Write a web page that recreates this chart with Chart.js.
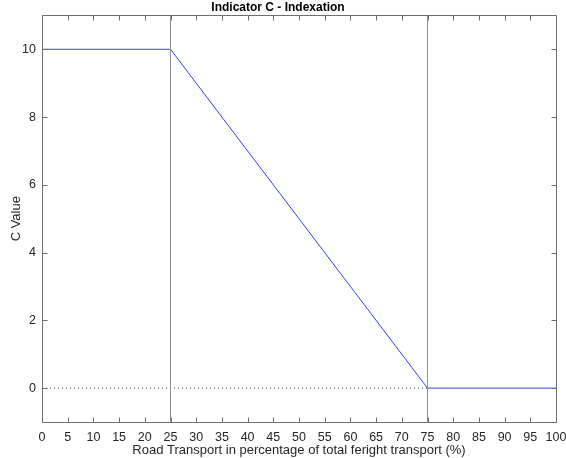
<!DOCTYPE html>
<html>
<head>
<meta charset="utf-8">
<script src="https://cdn.jsdelivr.net/npm/chart.js@4/dist/chart.umd.min.js"></script>
<style>
  body { margin: 0; background: #fff; }
  canvas { display: block; }
</style>
</head>
<body>
<canvas id="grafico" width="566" height="458"></canvas>
<script>
// Indicator C – piecewise line
const cX = [0, 25, 75, 100];
const cY = [10, 10, 0, 0];
// vertical reference lines
const refX = [25, 75];
const refY = [-1, 11];
// dotted zero line
const zeroX = [0, 75];
const zeroY = [0, 0];
const xTicks = [0, 5, 10, 15, 20, 25, 30, 35, 40, 45, 50, 55, 60, 65, 70, 75, 80, 85, 90, 95, 100];
const yTicks = [0, 2, 4, 6, 8, 10];

const font = 'Helvetica, Arial, "Liberation Sans", sans-serif';

// frame box and inward ticks like MATLAB
const frameBox = {
  id: 'frameBox',
  afterDraw(chart) {
    const { ctx, chartArea: a, scales: { x, y } } = chart;
    const l = Math.round(a.left) + 0.5, r = Math.round(a.right) + 0.5;
    const t = Math.round(a.top) + 0.5, b = Math.round(a.bottom) + 0.5;
    ctx.save();
    ctx.strokeStyle = '#6e6e6e';
    ctx.lineWidth = 1;
    ctx.beginPath();
    xTicks.forEach(v => {
      const px = Math.round(x.getPixelForValue(v)) + 0.5;
      ctx.moveTo(px, b); ctx.lineTo(px, b - 5);
      ctx.moveTo(px, t); ctx.lineTo(px, t + 5);
    });
    yTicks.forEach(v => {
      const py = Math.round(y.getPixelForValue(v)) + 0.5;
      ctx.moveTo(l, py); ctx.lineTo(l + 5, py);
      ctx.moveTo(r, py); ctx.lineTo(r - 5, py);
    });
    ctx.moveTo(l, t); ctx.lineTo(r, t); ctx.lineTo(r, b); ctx.lineTo(l, b); ctx.closePath();
    ctx.stroke();
    ctx.restore();
  }
};

new Chart(document.getElementById('grafico'), {
  type: 'line',
  data: {
    datasets: [
      {
        label: 'ref25',
        data: refY.map(v => ({ x: refX[0], y: v })),
        borderColor: '#8f8f8f', borderWidth: 1, pointRadius: 0
      },
      {
        label: 'ref75',
        data: refY.map(v => ({ x: refX[1], y: v })),
        borderColor: '#8f8f8f', borderWidth: 1, pointRadius: 0
      },
      {
        label: 'zero',
        data: zeroX.map((v, i) => ({ x: v, y: zeroY[i] })),
        borderColor: '#333333', borderWidth: 1, borderDash: [1, 3], pointRadius: 0
      },
      {
        label: 'C',
        data: cX.map((v, i) => ({ x: v, y: cY[i] })),
        borderColor: '#3c3cf0', borderWidth: 1, pointRadius: 0
      }
    ]
  },
  options: {
    responsive: false,
    animation: false,
    layout: { padding: { top: 0, right: 10, left: 0, bottom: 0 } },
    plugins: {
      legend: { display: false },
      tooltip: { enabled: false },
      title: {
        display: true,
        text: 'Indicator C - Indexation',
        color: '#000',
        font: { family: font, size: 12, weight: 'bold' },
        padding: { top: 0, bottom: 1 }
      }
    },
    scales: {
      x: {
        type: 'linear', min: 0, max: 100,
        afterBuildTicks: s => { s.ticks = xTicks.map(v => ({ value: v })); },
        afterFit: s => { s.height = 36; s.paddingLeft = 0; s.paddingRight = 0; },
        grid: { display: false, drawTicks: false },
        border: { display: false },
        ticks: { color: '#262626', font: { family: font, size: 12.5 }, padding: 8, maxRotation: 0, autoSkip: false },
        title: { display: true, text: 'Road Transport in percentage of total feright transport (%)', color: '#262626', font: { family: font, size: 13 }, padding: { top: 0, bottom: 0 } }
      },
      y: {
        type: 'linear', min: -1, max: 11,
        afterBuildTicks: s => { s.ticks = yTicks.map(v => ({ value: v })); },
        afterFit: s => { s.width = 42; s.paddingTop = 0; s.paddingBottom = 0; },
        grid: { display: false, drawTicks: false },
        border: { display: false },
        ticks: { color: '#262626', font: { family: font, size: 12.5 }, padding: 6 },
        title: { display: true, text: 'C Value', color: '#262626', font: { family: font, size: 13 }, padding: { top: 9, bottom: 0 } }
      }
    }
  },
  plugins: [frameBox]
});
</script>
</body>
</html>
